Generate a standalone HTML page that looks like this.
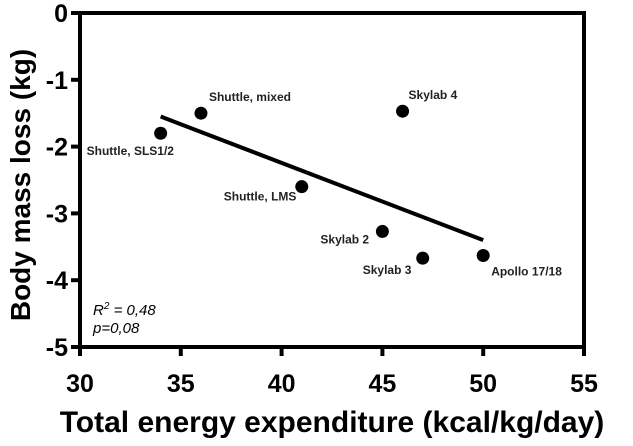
<!DOCTYPE html>
<html><head><meta charset="utf-8"><style>
body{margin:0;background:#fff;}
svg{display:block;font-family:"Liberation Sans",sans-serif;}
</style></head><body>
<svg id="c" width="633" height="446"></svg>
<script>
const xTicks=[30,35,40,45,50,55];
const yTicks=[0,-1,-2,-3,-4,-5];
const labels=["Shuttle, SLS1/2","Shuttle, mixed","Shuttle, LMS","Skylab 4","Skylab 2","Skylab 3","Apollo 17/18"];
const xs=[34,36,41,46,45,47,50];
const ys=[-1.8,-1.5,-2.6,-1.47,-3.27,-3.67,-3.63];
const fitX=[34,50];
const fitY=[-1.55,-3.4];
const ns="http://www.w3.org/2000/svg";
const svg=document.getElementById('c');
const X=v=>80+(v-30)*20.16;
const Y=v=>13-v*66.8;
function mk(t,a,txt){const e=document.createElementNS(ns,t);for(const k in a)e.setAttribute(k,a[k]);if(txt!==undefined)e.textContent=txt;svg.appendChild(e);return e;}
let e;
e=mk('rect',{x:X(30),y:Y(0),width:X(55)-X(30),height:Y(-5)-Y(0),fill:'none',stroke:'#000','stroke-width':4});


xTicks.forEach(t=>{
 e=mk('line',{x1:X(t),x2:X(t),y1:Y(-5),y2:Y(-5)+9,stroke:'#000','stroke-width':4});
 
 
 e=mk('text',{x:X(t),y:Y(-5)+45,'text-anchor':'middle','font-size':25,'font-weight':'bold'},t);
 
 
});
yTicks.forEach(t=>{
 e=mk('line',{x1:X(30)-9,x2:X(30),y1:Y(t),y2:Y(t),stroke:'#000','stroke-width':4});
 
 
 e=mk('text',{x:X(30)-12,y:Y(t)+9,'text-anchor':'end','font-size':25,'font-weight':'bold'},t===0?'0':'-'+Math.abs(t));
 
 
});
e=mk('line',{x1:X(fitX[0]),y1:Y(fitY[0]),x2:X(fitX[1]),y2:Y(fitY[1]),stroke:'#000','stroke-width':4});


const lab=[[-74,22],[8,-12],[-78,14],[6,-12],[-62,12],[-60,16],[8,20]];
xs.forEach((v,i)=>{
 e=mk('circle',{cx:X(v),cy:Y(ys[i]),r:6.5,fill:'#000'});
 
 
 e=mk('text',{x:X(v)+lab[i][0],y:Y(ys[i])+lab[i][1],'font-size':12,'font-weight':'bold',fill:'#222'},labels[i]);
 
 
});
e=mk('text',{x:93,y:315,'font-size':15,'font-style':'italic'});
e.innerHTML='R<tspan dy="-6" font-size="10">2</tspan><tspan dy="6"> = 0,48</tspan>';


e=mk('text',{x:93,y:333,'font-size':15,'font-style':'italic'},'p=0,08');


e=mk('text',{x:332,y:432,'text-anchor':'middle','font-size':30,'font-weight':'bold'},'Total energy expenditure (kcal/kg/day)');


e=mk('text',{x:0,y:0,'text-anchor':'middle','font-size':28,'font-weight':'bold',transform:'translate(30,185) rotate(-90)'},'Body mass loss (kg)');


</script>
</body></html>
